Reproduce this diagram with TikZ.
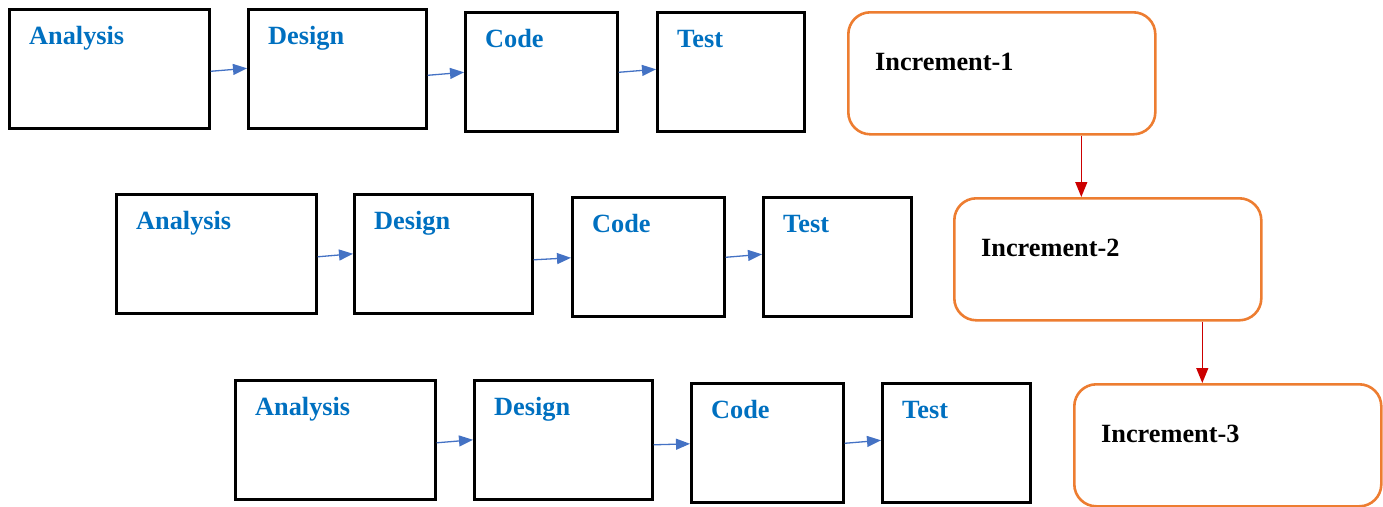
\documentclass[tikz,border=0pt]{standalone}
\usepackage{fontspec}
\setmainfont{Liberation Serif}
\usetikzlibrary{arrows.meta}
\definecolor{txtblue}{HTML}{0070C0}
\definecolor{arrblue}{HTML}{4472C4}
\definecolor{incorange}{HTML}{ED7D31}
\definecolor{arrred}{HTML}{CC0000}
\tikzset{
  stagebox/.style={draw=black, line width=2.6pt, rectangle, anchor=north west, inner sep=0pt, minimum height=119pt},
  stagelabel/.style={label={[anchor=base west, xshift=21pt, yshift=-36pt, inner sep=0pt, text=txtblue, font=\fontsize{26.3}{30}\selectfont\bfseries]north west:#1}},
  incbox/.style={draw=incorange, line width=2.6pt, rectangle, rounded corners=22pt, anchor=north west, inner sep=0pt, minimum width=307pt, minimum height=122pt},
  inclabel/.style={label={[anchor=base west, xshift=28pt, yshift=-59pt, inner sep=0pt, text=black, font=\fontsize{26.3}{30}\selectfont\bfseries]north west:#1}},
  flow/.style={draw=arrblue, line width=1.3pt, -{Triangle[length=14pt,width=11pt]}},
  incflow/.style={draw=arrred, line width=1.3pt, -{Triangle[length=15pt,width=12pt]}}
}
\begin{document}
\begin{tikzpicture}[x=1pt,y=-1pt]
\useasboundingbox (0,0) rectangle (1383,506);
% Row 1
\node[stagebox, minimum width=200pt, stagelabel=Analysis] (a1) at (8,8) {};
\node[stagebox, minimum width=178pt, stagelabel=Design] (d1) at (247,8) {};
\node[stagebox, minimum width=152pt, stagelabel=Code] (c1) at (464,11) {};
\node[stagebox, minimum width=147pt, stagelabel=Test] (t1) at (656,11) {};
\node[incbox, inclabel=Increment-1] (i1) at (847,11) {};
% Row 2
\node[stagebox, minimum width=200pt, stagelabel=Analysis] (a2) at (115,193) {};
\node[stagebox, minimum width=178pt, stagelabel=Design] (d2) at (353,193) {};
\node[stagebox, minimum width=152pt, stagelabel=Code] (c2) at (571,196) {};
\node[stagebox, minimum width=148pt, stagelabel=Test] (t2) at (762,196) {};
\node[incbox, inclabel=Increment-2] (i2) at (953,197) {};
% Row 3
\node[stagebox, minimum width=200pt, stagelabel=Analysis] (a3) at (234,379) {};
\node[stagebox, minimum width=178pt, stagelabel=Design] (d3) at (473,379) {};
\node[stagebox, minimum width=152pt, stagelabel=Code] (c3) at (690,382) {};
\node[stagebox, minimum width=148pt, stagelabel=Test] (t3) at (881,382) {};
\node[incbox, inclabel=Increment-3] (i3) at (1073,383) {};
% Blue arrows
\draw[flow] ([yshift=-2.5pt]a1.east) -- ([yshift=0.5pt]d1.west);
\draw[flow] ([yshift=-6.5pt]d1.east) -- ([yshift=-0.5pt]c1.west);
\draw[flow] ([yshift=-0.5pt]c1.east) -- ([yshift=2.5pt]t1.west);
\draw[flow] ([yshift=-3pt]a2.east) -- ([yshift=0pt]d2.west);
\draw[flow] ([yshift=-6pt]d2.east) -- ([yshift=-1pt]c2.west);
\draw[flow] ([yshift=-0.5pt]c2.east) -- ([yshift=2.5pt]t2.west);
\draw[flow] ([yshift=-3pt]a3.east) -- ([yshift=0pt]d3.west);
\draw[flow] ([yshift=-5pt]d3.east) -- ([yshift=-1pt]c3.west);
\draw[flow] ([yshift=-0.5pt]c3.east) -- ([yshift=2.5pt]t3.west);
% Red arrows
\draw[incflow] ([xshift=79.5pt]i1.south) -- ([xshift=-26.5pt]i2.north);
\draw[incflow] ([xshift=94.5pt]i2.south) -- ([xshift=-25.5pt]i3.north);
\end{tikzpicture}
\end{document}
